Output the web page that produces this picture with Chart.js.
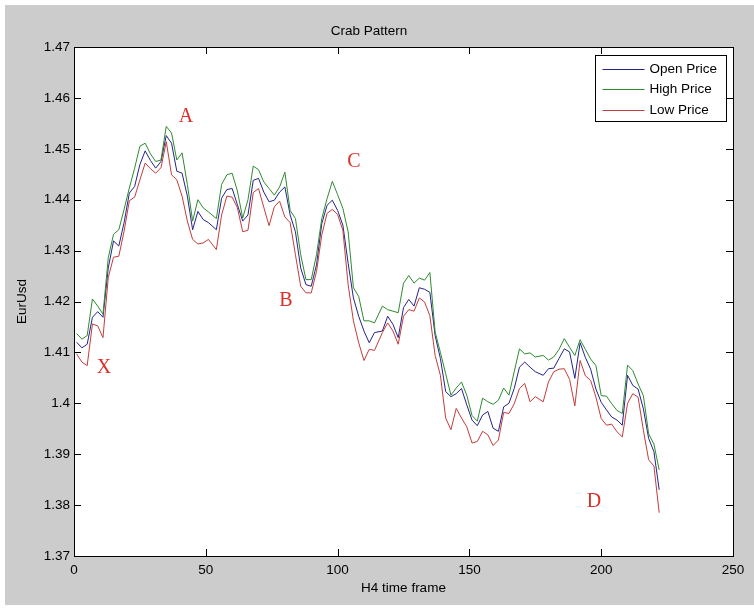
<!DOCTYPE html>
<html lang="en">
<head>
<meta charset="UTF-8">
<title>Crab Pattern</title>
<script src="https://cdn.jsdelivr.net/npm/chart.js@4.4.1/dist/chart.umd.min.js"></script>
<style>
    html, body { margin: 0; padding: 0; background: #fff; }
    canvas { display: block; }
</style>
</head>
<body>
<canvas id="crabChart" width="754" height="610"></canvas>
<script>
// H4 candle index of each sample
const frames = [
    1, 3, 5, 7, 9, 11, 13, 15, 17, 19, 21, 23, 25, 27, 29, 31, 33, 35, 37, 39, 41, 43, 45, 47, 49, 51,
    54, 56, 58, 60, 62, 64, 66, 68, 70, 72, 74, 76, 78, 80, 82, 84, 86, 88, 90, 92, 94, 96, 98, 100,
    102, 104, 106, 108, 110, 112, 114,
    117, 119, 121, 123, 125, 127, 129, 131, 133, 135, 137, 139, 141, 143, 145, 147, 149, 151, 153, 155,
    157, 159, 161, 163, 165, 167, 169, 171, 173, 175,
    178, 180, 182, 184, 186, 188, 190, 192, 194, 196, 198, 200, 202, 204, 206, 208, 210, 212, 214, 216,
    218, 220, 222
];

const openPrice = [
    1.4120, 1.4109, 1.4116, 1.4169, 1.4180, 1.4169, 1.4266, 1.4319, 1.4309, 1.4355,
    1.4413, 1.4426, 1.4469, 1.4496, 1.4477, 1.4462, 1.4475, 1.4526, 1.4511, 1.4456,
    1.4452, 1.4407, 1.4341, 1.4377, 1.4361, 1.4355, 1.4341, 1.4403, 1.4420, 1.4422,
    1.4390, 1.4358, 1.4370, 1.4438, 1.4442, 1.4415, 1.4396, 1.4399, 1.4415, 1.4425,
    1.4370, 1.4337, 1.4266, 1.4233, 1.4230, 1.4272, 1.4353, 1.4389, 1.4399, 1.4379,
    1.4350, 1.4275, 1.4207, 1.4171, 1.4142, 1.4119, 1.4139, 1.4142, 1.4171, 1.4155,
    1.4129, 1.4188, 1.4204, 1.4191, 1.4227, 1.4224, 1.4218, 1.4133, 1.4088, 1.4023,
    1.4013, 1.4019, 1.4029, 1.3997, 1.3967, 1.3956, 1.3977, 1.3984, 1.3951, 1.3945,
    1.3993, 1.4000, 1.4029, 1.4071, 1.4081, 1.4071, 1.4062, 1.4055, 1.4068, 1.4069,
    1.4088, 1.4107, 1.4101, 1.4049, 1.4119, 1.4090, 1.4067, 1.4028, 1.4002, 1.3987,
    1.3973, 1.3967, 1.3957, 1.4055, 1.4035, 1.4028, 1.3989, 1.3931, 1.3905, 1.3830
];

const highPrice = [
    1.4137, 1.4126, 1.4133, 1.4205, 1.4191, 1.4175, 1.4286, 1.4332, 1.4341, 1.4381,
    1.4423, 1.4462, 1.4505, 1.4511, 1.4490, 1.4475, 1.4478, 1.4544, 1.4531, 1.4478,
    1.4492, 1.4430, 1.4358, 1.4400, 1.4384, 1.4376, 1.4363, 1.4430, 1.4449, 1.4452,
    1.4417, 1.4364, 1.4400, 1.4466, 1.4459, 1.4435, 1.4422, 1.4409, 1.4425, 1.4454,
    1.4379, 1.4363, 1.4292, 1.4243, 1.4243, 1.4292, 1.4363, 1.4402, 1.4436, 1.4410,
    1.4383, 1.4337, 1.4227, 1.4210, 1.4162, 1.4162, 1.4158, 1.4191, 1.4184, 1.4181,
    1.4178, 1.4236, 1.4251, 1.4236, 1.4246, 1.4242, 1.4257, 1.4140, 1.4100, 1.4058,
    1.4016, 1.4030, 1.4042, 1.4016, 1.3976, 1.3965, 1.4010, 1.4003, 1.3998, 1.4006,
    1.4030, 1.4016, 1.4062, 1.4107, 1.4097, 1.4099, 1.4091, 1.4094, 1.4085, 1.4091,
    1.4106, 1.4127, 1.4110, 1.4094, 1.4125, 1.4106, 1.4087, 1.4074, 1.4015, 1.4014,
    1.3999, 1.3986, 1.3980, 1.4075, 1.4064, 1.4038, 1.4015, 1.3940, 1.3920, 1.3869
];

const lowPrice = [
    1.4097, 1.4081, 1.4074, 1.4156, 1.4152, 1.4129, 1.4247, 1.4287, 1.4289, 1.4338,
    1.4398, 1.4405, 1.4439, 1.4472, 1.4461, 1.4452, 1.4463, 1.4514, 1.4449, 1.4439,
    1.4407, 1.4358, 1.4322, 1.4313, 1.4315, 1.4322, 1.4302, 1.4370, 1.4407, 1.4405,
    1.4384, 1.4337, 1.4340, 1.4414, 1.4422, 1.4385, 1.4349, 1.4386, 1.4397, 1.4366,
    1.4355, 1.4292, 1.4230, 1.4217, 1.4217, 1.4259, 1.4331, 1.4373, 1.4381, 1.4371,
    1.4340, 1.4233, 1.4162, 1.4119, 1.4084, 1.4106, 1.4104, 1.4139, 1.4158, 1.4142,
    1.4116, 1.4171, 1.4184, 1.4181, 1.4207, 1.4199, 1.4172, 1.4094, 1.4055, 1.3971,
    1.3948, 1.3990, 1.3971, 1.3954, 1.3922, 1.3925, 1.3945, 1.3938, 1.3917, 1.3928,
    1.3982, 1.3980, 1.3999, 1.4029, 1.4039, 1.4003, 1.4013, 1.4003, 1.4042, 1.4062,
    1.4067, 1.4068, 1.4047, 1.3995, 1.4084, 1.4054, 1.4045, 1.4012, 1.3970, 1.3957,
    1.3959, 1.3944, 1.3934, 1.4000, 1.4019, 1.4012, 1.3947, 1.3889, 1.3877, 1.3785
];

// X-A-B-C-D labels of the pattern, placed in data units
const patternLabels = ['X', 'A', 'B', 'C', 'D'];
const patternFrames = [11.4, 42.5, 80.4, 106.2, 197.3];
const patternPrices = [1.4070, 1.4563, 1.4201, 1.4475, 1.3806];

const seriesNames = ['Open Price', 'High Price', 'Low Price'];
const seriesColors = ['#23238c', '#2e8b2e', '#c43c3c'];

const FONT = "'Liberation Sans', Arial, sans-serif";

function toPoints(values) {
    return frames.map((f, i) => ({ x: f, y: values[i] }));
}

// grey figure, white axes, inward ticks, box, legend and pattern letters
const matlabLook = {
    id: 'matlabLook',
    beforeDraw(chart) {
        const { ctx, chartArea: a } = chart;
        ctx.save();
        ctx.fillStyle = '#ffffff';
        ctx.fillRect(0, 0, chart.width, chart.height);
        ctx.fillStyle = '#cccccc';
        ctx.fillRect(5, 5, chart.width - 5, chart.height - 10);
        ctx.fillStyle = '#ffffff';
        ctx.fillRect(a.left, a.top, a.right - a.left, a.bottom - a.top);
        ctx.restore();
    },
    afterDatasetsDraw(chart) {
        const { ctx, scales } = chart;
        ctx.save();
        ctx.fillStyle = '#d9302c';
        ctx.font = "20px 'Liberation Serif', 'Times New Roman', serif";
        ctx.textAlign = 'center';
        ctx.textBaseline = 'middle';
        patternLabels.forEach((t, i) => {
            ctx.fillText(t, scales.x.getPixelForValue(patternFrames[i]), scales.y.getPixelForValue(patternPrices[i]));
        });
        ctx.restore();
    },
    afterDraw(chart) {
        const { ctx, chartArea: a, scales } = chart;
        const tick = 7;
        ctx.save();
        ctx.strokeStyle = '#000';
        ctx.lineWidth = 1;
        ctx.beginPath();
        scales.x.ticks.forEach(t => {
            const px = Math.round(scales.x.getPixelForValue(t.value)) + 0.5;
            ctx.moveTo(px, a.bottom); ctx.lineTo(px, a.bottom - tick);
            ctx.moveTo(px, a.top); ctx.lineTo(px, a.top + tick);
        });
        scales.y.ticks.forEach(t => {
            const py = Math.round(scales.y.getPixelForValue(t.value)) + 0.5;
            ctx.moveTo(a.left, py); ctx.lineTo(a.left + tick, py);
            ctx.moveTo(a.right, py); ctx.lineTo(a.right - tick, py);
        });
        ctx.stroke();
        ctx.strokeRect(Math.round(a.left) + 0.5, Math.round(a.top) + 0.5,
            Math.round(a.right - a.left), Math.round(a.bottom - a.top));

        // legend box
        const bx = Math.round(a.right) - 137.5, by = Math.round(a.top) + 8.5, bw = 131, bh = 66;
        ctx.fillStyle = '#fff';
        ctx.fillRect(bx, by, bw, bh);
        ctx.strokeRect(bx, by, bw, bh);
        ctx.font = '13.5px ' + FONT;
        ctx.textBaseline = 'middle';
        ctx.textAlign = 'left';
        chart.data.datasets.forEach((ds, i) => {
            const y = Math.round(by + 13 + i * 20.7) + 0.5;
            ctx.strokeStyle = ds.borderColor;
            ctx.beginPath();
            ctx.moveTo(bx + 7, y); ctx.lineTo(bx + 49, y);
            ctx.stroke();
            ctx.fillStyle = '#000';
            ctx.fillText(ds.label, bx + 54, y);
        });
        ctx.restore();
    }
};

new Chart(document.getElementById('crabChart'), {
    type: 'line',
    data: {
        datasets: [openPrice, highPrice, lowPrice].map((vals, i) => ({
            label: seriesNames[i],
            data: toPoints(vals),
            borderColor: seriesColors[i],
            borderWidth: 1,
            pointRadius: 0,
            tension: 0,
            fill: false,
            order: 3 - i
        }))
    },
    options: {
        responsive: false,
        animation: false,
        devicePixelRatio: 1,
        layout: { padding: { left: 5, right: 21, top: 0, bottom: 0 } },
        plugins: {
            legend: { display: false },
            tooltip: { enabled: false },
            title: {
                display: true,
                text: 'Crab Pattern',
                color: '#000',
                font: { family: FONT, size: 13.5, weight: 'normal' },
                padding: { top: 23, bottom: 7.8 }
            }
        },
        scales: {
            x: {
                type: 'linear',
                min: 0,
                max: 250,
                ticks: { stepSize: 50, color: '#000', padding: 6, maxRotation: 0, font: { family: FONT, size: 13.5 } },
                grid: { display: false, drawTicks: false, tickLength: 0 },
                border: { display: false },
                title: {
                    display: true,
                    text: 'H4 time frame',
                    color: '#000',
                    font: { family: FONT, size: 13.5 },
                    padding: { top: 0, bottom: 14 }
                },
                afterFit(scale) { scale.height = 54; }
            },
            y: {
                min: 1.37,
                max: 1.47,
                ticks: {
                    stepSize: 0.01,
                    color: '#000',
                    padding: 4,
                    font: { family: FONT, size: 13.5 },
                    callback: v => String(Number(v.toFixed(2)))
                },
                grid: { display: false, drawTicks: false, tickLength: 0 },
                border: { display: false },
                title: {
                    display: true,
                    text: 'EurUsd',
                    color: '#000',
                    font: { family: FONT, size: 13.5 },
                    padding: { top: 9, bottom: 0 }
                },
                afterFit(scale) { scale.width = 69; }
            }
        }
    },
    plugins: [matlabLook]
});
</script>
</body>
</html>
